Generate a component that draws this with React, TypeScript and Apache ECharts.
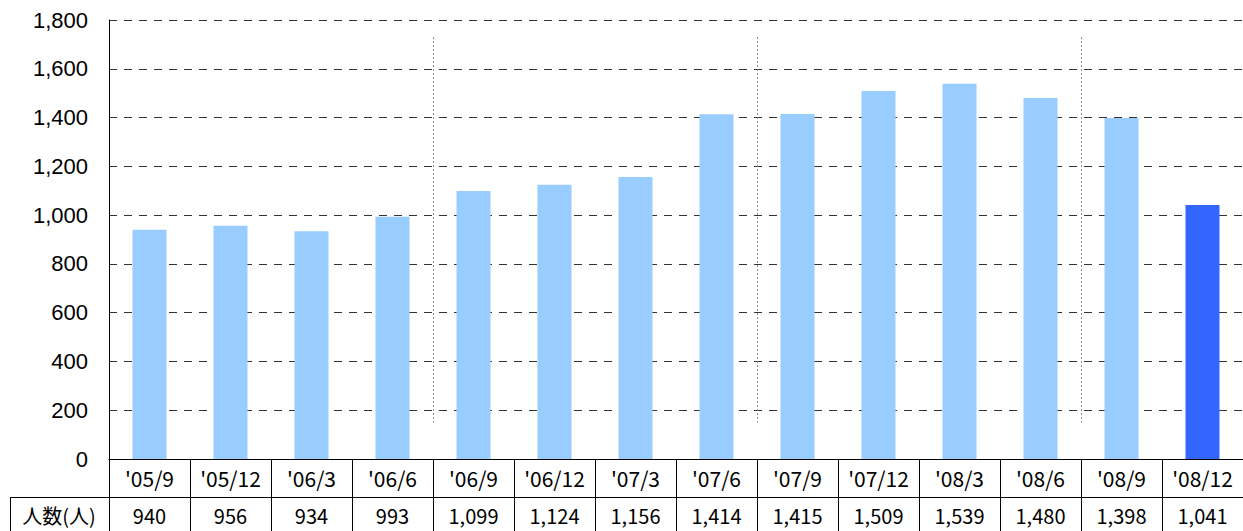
import React, { useEffect, useRef } from "react";
import * as echarts from "echarts";

const categories = ["'05/9", "'05/12", "'06/3", "'06/6", "'06/9", "'06/12", "'07/3", "'07/6", "'07/9", "'07/12", "'08/3", "'08/6", "'08/9", "'08/12"];
const values = [940, 956, 934, 993, 1099, 1124, 1156, 1414, 1415, 1509, 1539, 1480, 1398, 1041];
const highlightIndex = 13;
const dividerBoundaries = [4, 8, 12];
const dividerRange = [150, 1730];
const rowLabel = "人数(人)";

const fmt = (v: number) => v.toLocaleString("en-US");

export default function App() {
  const ref = useRef<HTMLDivElement>(null);
  useEffect(() => {
    if (!ref.current) return;
    const chart = echarts.init(ref.current, undefined, { renderer: "svg" });
    const tableFont = '"Noto Sans CJK JP", "Noto Sans", sans-serif';
    chart.setOption({
      animation: false,
      backgroundColor: "#fff",
      grid: { left: 109, right: 0, top: 20, bottom: 72, containLabel: false },
      xAxis: [
        {
          type: "category",
          data: categories,
          axisLine: { show: true, lineStyle: { color: "#000", width: 1 } },
          axisTick: { show: true, length: 72, alignWithLabel: false, lineStyle: { color: "#000", width: 1 } },
          axisLabel: {
            interval: 0,
            margin: 0,
            formatter: (val: string, idx: number) => `{c|${val}}\n{v|${fmt(values[idx])}}`,
            rich: {
              c: { fontSize: 21, lineHeight: 38, fontFamily: tableFont, color: "#000", align: "center" },
              v: { fontSize: 20, lineHeight: 36, fontFamily: tableFont, color: "#000", align: "center" },
            },
          },
          splitLine: { show: false },
        },
        { type: "value", min: 0, max: 14, show: false },
      ],
      yAxis: {
        type: "value",
        min: 0,
        max: 1800,
        interval: 200,
        axisLine: { show: true, lineStyle: { color: "#000", width: 1 } },
        axisTick: { show: false },
        axisLabel: {
          margin: 21,
          fontSize: 22,
          color: "#000",
          fontFamily: '"Liberation Sans", Arial, sans-serif',
          formatter: (v: number) => fmt(v),
        },
        splitLine: { show: true, lineStyle: { color: "#333", type: [8, 7], width: 1 } },
      },
      series: [
        {
          type: "bar",
          xAxisIndex: 0,
          barWidth: 34,
          data: values.map((v, i) => ({
            value: v,
            itemStyle: { color: i === highlightIndex ? "#3366FF" : "#99CCFF" },
          })),
        },
        {
          type: "line",
          xAxisIndex: 1,
          yAxisIndex: 0,
          data: [],
          silent: true,
          markLine: {
            symbol: "none",
            silent: true,
            label: { show: false },
            lineStyle: { type: [2, 2], color: "#888", width: 1 },
            data: dividerBoundaries.map((b) => [
              { coord: [b, dividerRange[1]] },
              { coord: [b, dividerRange[0]] },
            ]),
          },
        },
      ],
      graphic: [
        { type: "line", shape: { x1: 10, y1: 497.5, x2: 1243, y2: 497.5 }, style: { stroke: "#000", lineWidth: 1 } },
        { type: "line", shape: { x1: 10.5, y1: 497, x2: 10.5, y2: 531 }, style: { stroke: "#000", lineWidth: 1 } },
        {
          type: "text",
          x: 59,
          y: 515,
          style: {
            text: rowLabel,
            fontSize: 20,
            fontFamily: tableFont,
            fill: "#000",
            align: "center",
            verticalAlign: "middle",
          },
        },
      ],
    });
    return () => chart.dispose();
  }, []);
  return (
    <div
      ref={ref}
      style={{ position: "absolute", left: 0, top: 0, width: 1243, height: 531, background: "#fff" }}
    />
  );
}
